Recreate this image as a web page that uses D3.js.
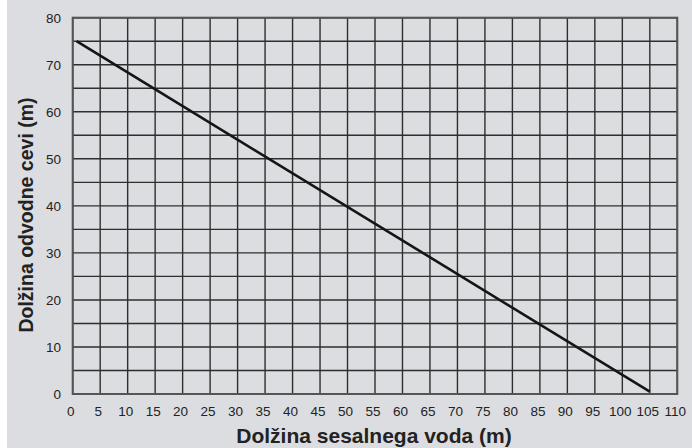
<!DOCTYPE html>
<html>
<head>
<meta charset="utf-8">
<script src="https://cdn.jsdelivr.net/npm/d3@7"></script>
<style>
  html, body { margin: 0; padding: 0; background: #ffffff; }
  svg { display: block; }
  .tick-label { font-family: "Liberation Sans", Arial, sans-serif; font-size: 13.5px; fill: #222; }
  .axis-title { font-family: "Liberation Sans", Arial, sans-serif; font-weight: bold; fill: #222; }
</style>
</head>
<body>
<script>
var WIDTH = 692, HEIGHT = 448;
var MARGIN = {top: 17.7, right: 14.7, bottom: 54, left: 72.7};

// data
var xTicks = [0,5,10,15,20,25,30,35,40,45,50,55,60,65,70,75,80,85,90,95,100,105,110];
var yGrid = [0,5,10,15,20,25,30,35,40,45,50,55,60,65,70,75,80];
var yTicks = [0,10,20,30,40,50,60,70,80];
var lineX = [0.7, 105];
var lineY = [75, 0.5];
var xTitle = "Dolžina sesalnega voda (m)";
var yTitle = "Dolžina odvodne cevi (m)";

var _xScale = d3.scaleLinear()
    .domain([0,110])
    .range([MARGIN.left, WIDTH - MARGIN.right]);

var _yScale = d3.scaleLinear()
    .domain([0,80])
    .range([HEIGHT - MARGIN.bottom, MARGIN.top]);

var _svg = d3.select('body').append('svg')
    .attr('width', WIDTH)
    .attr('height', HEIGHT);

// background with the white strip on the left
_svg.append('rect').attr('x',0).attr('y',0).attr('width',WIDTH).attr('height',HEIGHT).attr('fill','#ffffff');
_svg.append('rect').attr('x',7).attr('y',0).attr('width',WIDTH-7).attr('height',HEIGHT).attr('fill','#dcdde0');

var g = _svg.append('g');

g.selectAll('line.vgrid').data(xTicks)
    .enter().append('line')
        .classed('vgrid', true)
        .attr('x1', function(d){return _xScale(d)})
        .attr('x2', function(d){return _xScale(d)})
        .attr('y1', _yScale(0))
        .attr('y2', _yScale(80))
        .attr('stroke', '#2e2e2e')
        .attr('stroke-width', 1.4);

g.selectAll('line.hgrid').data(yGrid)
    .enter().append('line')
        .classed('hgrid', true)
        .attr('x1', _xScale(0))
        .attr('x2', _xScale(110))
        .attr('y1', function(d){return _yScale(d)})
        .attr('y2', function(d){return _yScale(d)})
        .attr('stroke', '#2e2e2e')
        .attr('stroke-width', 1.4);

// frame
g.append('rect')
    .attr('x', _xScale(0))
    .attr('y', _yScale(80))
    .attr('width', _xScale(110) - _xScale(0))
    .attr('height', _yScale(0) - _yScale(80))
    .attr('fill', 'none')
    .attr('stroke', '#555')
    .attr('stroke-width', 2);

// the curve
var pts = lineX.map(function(x,i){ return {x: x, y: lineY[i]}; });
var line = d3.line()
    .x(function(d){return _xScale(d.x)})
    .y(function(d){return _yScale(d.y)});

g.append('path')
    .attr('d', line(pts))
    .attr('fill', 'none')
    .attr('stroke', '#151515')
    .attr('stroke-width', 2.6);

// tick labels
g.selectAll('text.xlab').data(xTicks)
    .enter().append('text')
        .classed('tick-label', true)
        .attr('x', function(d){return _xScale(d) - 2})
        .attr('y', 415.7)
        .attr('text-anchor', 'middle')
        .text(function(d){return d});

g.selectAll('text.ylab').data(yTicks)
    .enter().append('text')
        .classed('tick-label', true)
        .attr('x', 61)
        .attr('y', function(d){return _yScale(d) + 5})
        .attr('text-anchor', 'end')
        .text(function(d){return d});

// axis titles
_svg.append('text')
    .classed('axis-title', true)
    .style('font-size', '21px')
    .attr('x', 374)
    .attr('y', 443)
    .attr('text-anchor', 'middle')
    .text(xTitle);

_svg.append('text')
    .classed('axis-title', true)
    .style('font-size', '19.5px')
    .attr('transform', 'translate(33,215) rotate(-90)')
    .attr('text-anchor', 'middle')
    .text(yTitle);
</script>
</body>
</html>
